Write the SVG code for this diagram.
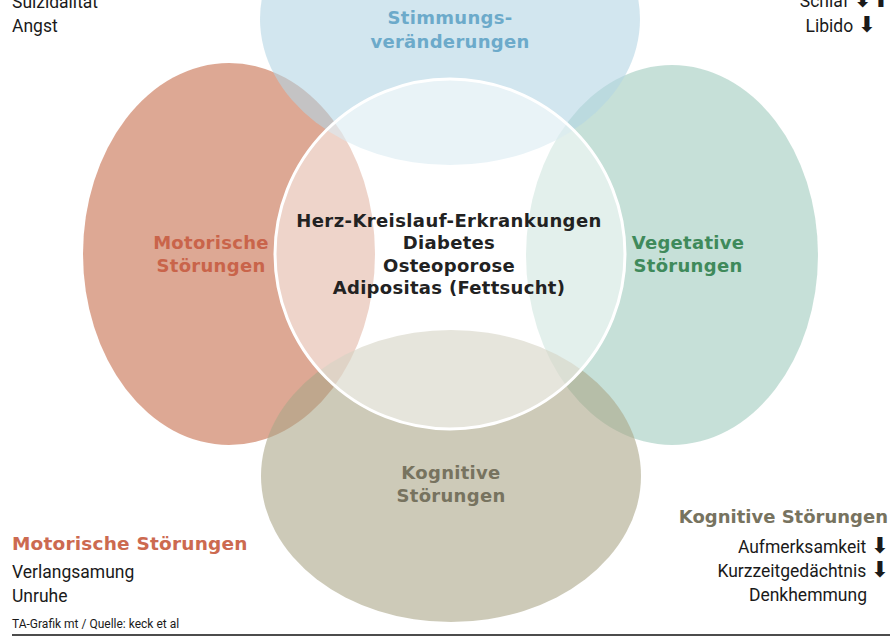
<svg xmlns="http://www.w3.org/2000/svg" width="890" height="643" viewBox="0 0 890 643">
<style>
.ell{fill-opacity:0.6}
.h{font-family:"DejaVu Sans","Liberation Sans",sans-serif;font-weight:bold;font-size:18px;letter-spacing:0.3px;text-anchor:middle}
.b{font-family:Roboto,"Liberation Sans",sans-serif;font-size:17.5px;fill:#1a1a1a}
.r{text-anchor:end}
.ar{font-family:"DejaVu Sans",sans-serif;font-size:22px}
</style>
<rect width="890" height="643" fill="#ffffff"/>
<g id="venn">
<g id="node-motorisch"><ellipse class="ell" cx="229" cy="254" rx="146" ry="191" fill="#c66e4d"/></g>
<g id="node-vegetativ"><ellipse class="ell" cx="672" cy="255" rx="146" ry="190" fill="#a0cbbe"/></g>
<g id="node-stimmung"><ellipse class="ell" cx="450" cy="19" rx="190" ry="146" fill="#b4d5e4"/></g>
<g id="node-kognitiv"><ellipse class="ell" cx="451" cy="476" rx="190" ry="146" fill="#aca789"/></g>
<g id="node-center"><circle cx="450" cy="254" r="175" fill="#ffffff" fill-opacity="0.5" stroke="#ffffff" stroke-width="3"/></g>
</g>
<g id="connectors"></g>
<g id="labels">
<text class="h" x="450" y="24" fill="#6caaca">Stimmungs-</text>
<text class="h" x="450" y="48" fill="#6caaca">veränderungen</text>
<text class="h" x="211" y="249" fill="#c9644a">Motorische</text>
<text class="h" x="211" y="272" fill="#c9644a">Störungen</text>
<text class="h" x="688" y="249" fill="#3f8a5b">Vegetative</text>
<text class="h" x="688" y="272" fill="#3f8a5b">Störungen</text>
<text class="h" x="449" y="227" fill="#222222" style="letter-spacing:0.4px">Herz-Kreislauf-Erkrankungen</text>
<text class="h" x="449" y="249" fill="#222222">Diabetes</text>
<text class="h" x="449" y="272" fill="#222222">Osteoporose</text>
<text class="h" x="449" y="294" fill="#222222">Adipositas (Fettsucht)</text>
<text class="h" x="451" y="479" fill="#77735f">Kognitive</text>
<text class="h" x="451" y="502" fill="#77735f">Störungen</text>
</g>
<g id="legends">
<text class="b" x="12" y="8">Suizidalität</text>
<text class="b" x="12" y="32">Angst</text>
<text class="b r" x="890" y="7">Schlaf <tspan class="ar">⬇⬆</tspan></text>
<text class="b r" x="876" y="32">Libido <tspan class="ar">⬇</tspan></text>
<text class="h" x="888" y="523" fill="#77735f" style="text-anchor:end;letter-spacing:0">Kognitive Störungen</text>
<text class="b r" x="889" y="553">Aufmerksamkeit <tspan class="ar">⬇</tspan></text>
<text class="b r" x="889" y="577">Kurzzeitgedächtnis <tspan class="ar">⬇</tspan></text>
<text class="b r" x="867" y="601">Denkhemmung</text>
<text class="h" x="12" y="550" fill="#cc6a50" style="text-anchor:start;font-size:18.5px;letter-spacing:0.2px">Motorische Störungen</text>
<text class="b" x="12" y="578">Verlangsamung</text>
<text class="b" x="12" y="602">Unruhe</text>
<text class="b" x="12" y="628" style="font-size:12px">TA-Grafik mt / Quelle: keck et al</text>
<line x1="12" y1="635" x2="890" y2="635" stroke="#111111" stroke-width="1.5"/>
</g>
</svg>
